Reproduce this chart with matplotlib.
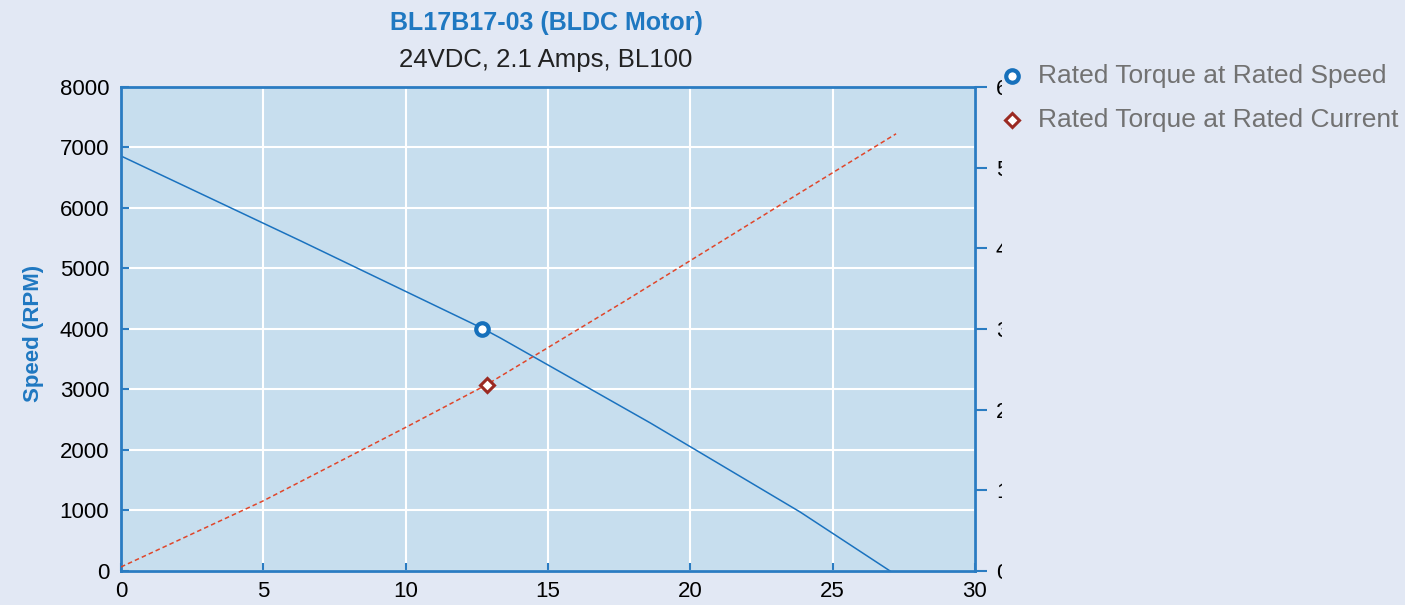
import matplotlib.pyplot as plt
from matplotlib import font_manager
from matplotlib.transforms import Bbox

# speed curve (torque vs RPM)
speed_torque = [0, 6.32, 12.67, 13.33, 18.6, 23.86, 27.02]
speed_rpm = [6860, 5455, 4017, 3851, 2446, 975, 0]

# current curve (torque vs amps, right axis)
current_torque = [0, 5, 10, 12.8, 17.72, 23.4, 27.23]
current_amps = [0.05, 0.87, 1.78, 2.30, 3.35, 4.59, 5.42]

rated_speed_pt = (12.67, 4000)
rated_current_pt = (12.85, 2.3)

title = "BL17B17-03 (BLDC Motor)"
subtitle = "24VDC, 2.1 Amps, BL100"
legend_labels = ["Rated Torque at Rated Speed", "Rated Torque at Rated Current"]

plt.rcParams['font.family'] = ['Liberation Sans', 'DejaVu Sans']

names = {f.name for f in font_manager.fontManager.ttflist}
if 'Liberation Sans Narrow' in names:
    narrow = ['Liberation Sans Narrow', 'DejaVu Sans']
    nscale = 1.0
else:
    narrow = ['Liberation Sans', 'DejaVu Sans']
    nscale = 0.82

BG = "#e2e8f4"
AXBG = "#c7deee"
BLUE = "#2a7cc2"

fig = plt.figure(figsize=(14.05, 6.05), dpi=100, facecolor=BG)
ax = fig.add_axes([0.0861, 0.0562, 0.6078, 0.800])
ax.set_facecolor(AXBG)
ax.set_xlim(0, 30)
ax.set_ylim(0, 8000)
ax.set_xticks(range(0, 31, 5))
ax.set_yticks(range(0, 8001, 1000))
ax.grid(True, color="white", lw=1.5)
ax.set_axisbelow(True)
for s in ax.spines.values():
    s.set_color(BLUE)
    s.set_linewidth(2)
ax.tick_params(axis='both', direction='in', length=6, color=BLUE, width=1.5,
               labelsize=16, labelcolor='black')
ax.tick_params(axis='y', pad=8.5)
ax.tick_params(axis='x', pad=7)

ax.plot(speed_torque, speed_rpm, color="#1a72bf", lw=1.1)
ax.plot(*rated_speed_pt, 'o', ms=9, mfc='white', mec="#1670bb", mew=3, zorder=5)

ax2 = ax.twinx()
ax2.set_ylim(0, 6)
ax2.set_yticks(range(0, 7))
ax2.tick_params(axis='y', direction='out', length=8.6, color=BLUE, width=1.5,
                labelsize=16, labelcolor='black', pad=6.5)
for s in ax2.spines.values():
    s.set_visible(False)
ax2.plot(current_torque, current_amps, color="#e0462a", lw=1.1, ls=(0, (3, 2)))
ax2.plot(*rated_current_pt, 'D', ms=7, mfc='white', mec="#9b2a22", mew=2.2, zorder=5)

ax.set_ylabel("Speed (RPM)", color="#1f78c1", fontsize=19.5 * nscale,
              fontweight='bold', family=narrow)
ax.yaxis.set_label_coords(-0.090, 0.49)

fig.text(546 / 1405, 0.962, title, ha='center', va='center', color="#1f78c1",
         fontsize=22 * nscale, fontweight='bold', family=narrow)
fig.text(546 / 1405, 0.900, subtitle, ha='center', va='center', color="#222222",
         fontsize=18.5)

# legend
fig.lines.append(plt.Line2D([1012 / 1405], [1 - 76 / 605], transform=fig.transFigure,
                            marker='o', ms=9, mfc='white', mec="#1670bb", mew=3))
fig.lines.append(plt.Line2D([1012 / 1405], [1 - 120 / 605], transform=fig.transFigure,
                            marker='D', ms=7, mfc='white', mec="#9b2a22", mew=2.2))
for i, lab in enumerate(legend_labels):
    fig.text(1038 / 1405, 1 - (76 + 44 * i) / 605, lab, ha='left', va='center',
             color="#727272", fontsize=19)

# right tick labels are clipped in the source
fig.canvas.draw()
clip = Bbox([[0, 0], [1002, 605]])
for t in ax2.get_yticklabels():
    t.set_clip_box(clip)
    t.set_clip_on(True)

fig.savefig("out.png", dpi=100, facecolor=BG)
